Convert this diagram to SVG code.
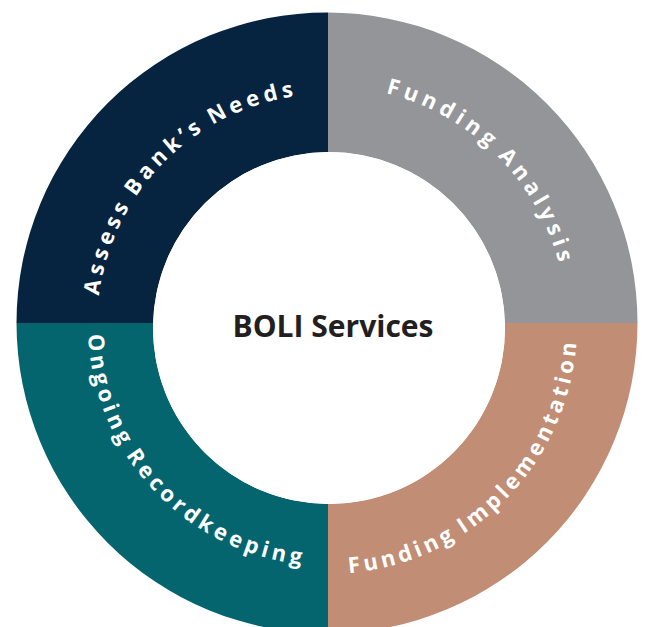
<svg xmlns="http://www.w3.org/2000/svg" xmlns:xlink="http://www.w3.org/1999/xlink" width="646" height="627" viewBox="0 0 646 627">
  <style>
    .ring-label { font-family: "Open Sans", "Noto Sans", "Liberation Sans", sans-serif; font-weight: 700; font-size: 22px; fill: #ffffff; word-spacing: -3px; }
    .hub-label { font-family: "Open Sans", "Noto Sans", "Liberation Sans", sans-serif; font-weight: 700; font-size: 30px; fill: #231f20; }
  </style>
  <defs>
    <!-- label baselines: upper labels run clockwise, lower labels counter-clockwise -->
    <path id="arc-assess" d="M 98.9,295.6 A 231 231 0 0 1 293.9,96.5"/>
    <path id="arc-analysis" d="M 385.8,93.1 A 239 239 0 0 1 558.9,263.1"/>
    <path id="arc-record" d="M 88.2,334.6 A 241 241 0 0 0 301.7,564.6"/>
    <path id="arc-implement" d="M 348.8,573.1 A 249 249 0 0 0 576.5,341.4"/>
  </defs>
  <rect width="646" height="627" fill="#ffffff"/>

  <g id="assess-needs">
    <path d="M 16.5,323 A 310.5 310.5 0 0 1 328,12.5 L 328,152 A 176 176 0 0 0 153.07,323 Z" fill="#06243f"/>
    <text class="ring-label"><textPath xlink:href="#arc-assess" href="#arc-assess" textLength="299" lengthAdjust="spacing">Assess Bank’s Needs</textPath></text>
  </g>

  <g id="funding-analysis">
    <path d="M 328,12.5 A 310.5 310.5 0 0 1 637.5,323 L 504.93,323 A 176 176 0 0 0 328,152 Z" fill="#939598"/>
    <text class="ring-label"><textPath xlink:href="#arc-analysis" href="#arc-analysis" textLength="254" lengthAdjust="spacing">Funding Analysis</textPath></text>
  </g>

  <g id="funding-implementation">
    <path d="M 637.5,323 A 310.5 310.5 0 0 1 328,633.5 L 328,504 A 176 176 0 0 0 504.93,323 Z" fill="#c18d74"/>
    <text class="ring-label"><textPath xlink:href="#arc-implement" href="#arc-implement" textLength="352" lengthAdjust="spacing">Funding Implementation</textPath></text>
  </g>

  <g id="ongoing-recordkeeping">
    <path d="M 328,633.5 A 310.5 310.5 0 0 1 16.5,323 L 153.07,323 A 176 176 0 0 0 328,504 Z" fill="#04656f"/>
    <text class="ring-label"><textPath xlink:href="#arc-record" href="#arc-record" textLength="341" lengthAdjust="spacing">Ongoing Recordkeeping</textPath></text>
  </g>

  <g id="boli-services">
    <circle cx="329" cy="328" r="176" fill="#ffffff"/>
    <text class="hub-label" x="333" y="337" text-anchor="middle" textLength="201" lengthAdjust="spacingAndGlyphs">BOLI Services</text>
  </g>
</svg>
